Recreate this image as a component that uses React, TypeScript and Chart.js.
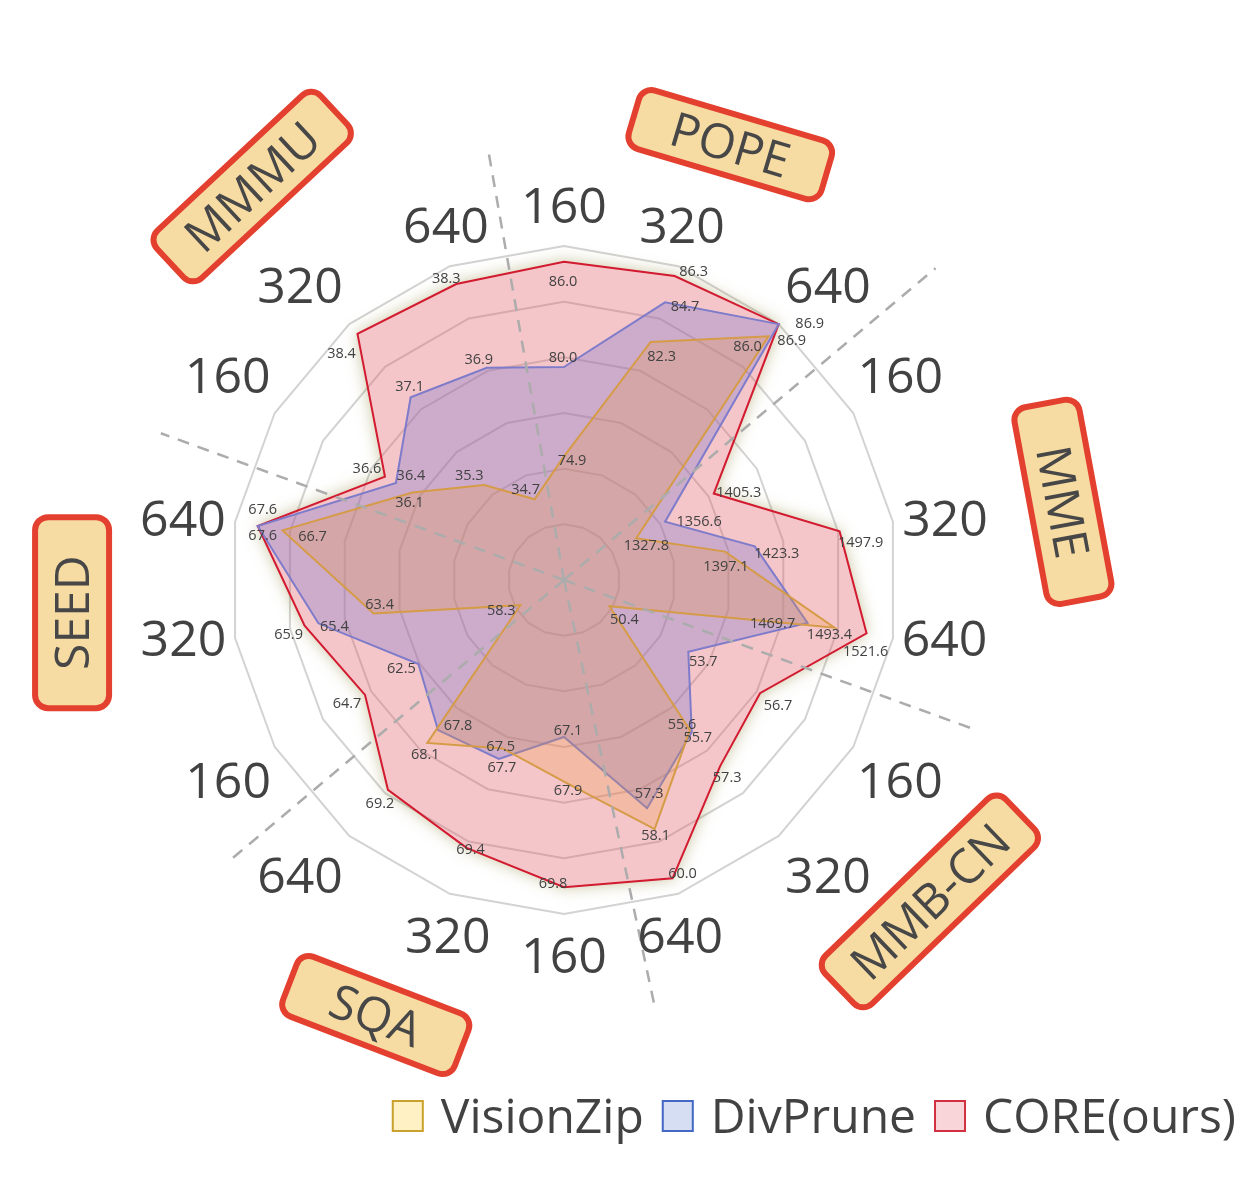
import React, { useEffect, useRef } from "react";
import { Chart, registerables } from "chart.js";

Chart.register(...registerables);

// ---------- data ----------
const benchmarks = ["POPE", "MME", "MMB-CN", "SQA", "SEED", "MMMU"];
const tokenCounts = ["160", "320", "640"];
const seriesNames = ["VisionZip", "DivPrune", "CORE(ours)"];

// per-benchmark indicator range of the radar axes
const benchMin = [67.85, 1255.5, 48.5, 64.28, 56.5, 33.35];
const benchMax = [86.9, 1544.8, 60.6, 70.28, 68.42, 38.6];

const visionZip = [74.9, 82.3, 86.0, 1327.8, 1397.1, 1493.4, 50.4, 55.6, 58.1, 67.9, 67.5, 68.1, 58.3, 63.4, 66.7, 36.1, 35.3, 34.7];
const divPrune = [80.0, 84.7, 86.9, 1356.6, 1423.3, 1469.7, 53.7, 55.7, 57.3, 67.1, 67.7, 67.8, 62.5, 65.4, 67.6, 36.4, 37.1, 36.9];
const core = [86.0, 86.3, 86.9, 1405.3, 1497.9, 1521.6, 56.7, 57.3, 60.0, 69.8, 69.4, 69.2, 64.7, 65.9, 67.6, 36.6, 38.4, 38.3];

const seriesValues = [visionZip, divPrune, core];
const axisLabels = benchmarks.flatMap(() => tokenCounts);

const toRadius = (vals: number[]) =>
  vals.map((v, i) => {
    const b = Math.floor(i / tokenCounts.length);
    return (v - benchMin[b]) / (benchMax[b] - benchMin[b]);
  });

// ---------- styles / layout ----------
const FONT = '"Open Sans", "Noto Sans", sans-serif';
const TEXT = "#424242";
const lineColors = ["#d59b47", "#7e7cca", "#d21a30"];
const fillColors = ["rgba(234,152,60,0.26)", "rgba(112,110,206,0.30)", "rgba(226,88,98,0.34)"];
const legendFill = ["#fff1c4", "#d5def3", "#f9d5da"];
const legendStroke = ["#c9a12f", "#4468c4", "#d0303f"];

const offVZ = [[8, 3], [11, 14], [-21, 10], [10, 7], [1, 14], [-5, 6], [15, 13], [-8, -6], [1, 6], [4, 8], [-2, -3], [-2, 11], [-19, 5], [6, -10], [30, 5], [-3, 9], [-15, -10], [-9, -11]];
const offDP = [[-1, -10], [20, 3], [13, 16], [34, -1], [22, 6], [-35, 0], [15, 9], [6, 5], [2, -15], [4, -7], [3, 8], [20, -5], [-17, 4], [16, 2], [5, 9], [15, -8], [-1, -11], [-8, -9]];
const offCORE = [[-1, 19], [19, -5], [31, -1], [25, -2], [21, 10], [-1, 17], [18, 12], [7, 11], [10, -6], [-11, -5], [4, 1], [-8, 13], [-18, 8], [-16, 8], [5, -17], [-18, -9], [-16, 19], [-10, -6]];
const valueOffsets = [offVZ, offDP, offCORE];

// tick label (160/320/640) placement: extra distance beyond outer ring, small angle shift (deg)
const tickGap = [41, 40, 62, 60, 52, 51, 57, 62, 40, 41, 40, 62, 57, 51, 52, 60, 62, 40];
const tickShift = [0, -1.6, 1.8, -1.4, 0.8, -1.3, 0.8, -1.8, 1.9, 0, -1.9, 1.8, -0.8, 1.3, -0.8, 1.4, -1.8, 1.6];

// dashed separators: extra length beyond outer ring and angle shift (deg)
const sepGap = [107, 151, 101, 101, 105, 95];
const sepShift = [0, 0, 0, -2, 0, 0];

// benchmark name boxes
const boxShift = [0.9, 1.1, -8.7, 3.4, 6.2, 1.6];
const boxGap = [132, 171, 153, 140, 159, 168];
const boxRot = [16.5, 79.5, -44, 21, -90, -43];
const boxW = [207, 206, 257, 190, 197, 230];
const boxH = [67, 72, 73, 70, 80, 71];

const DEG = Math.PI / 180;

function roundRectPath(ctx: CanvasRenderingContext2D, x: number, y: number, w: number, h: number, r: number) {
  ctx.beginPath();
  ctx.moveTo(x + r, y);
  ctx.arcTo(x + w, y, x + w, y + h, r);
  ctx.arcTo(x + w, y + h, x, y + h, r);
  ctx.arcTo(x, y + h, x, y, r);
  ctx.arcTo(x, y, x + w, y, r);
  ctx.closePath();
}

const decorPlugin = {
  id: "decor",
  beforeDatasetsDraw(chart: any) {
    // soft glow outside the CORE polygon
    const ctx: CanvasRenderingContext2D = chart.ctx;
    const pts = chart.getDatasetMeta(2).data;
    const path = () => {
      pts.forEach((p: any, i: number) => (i ? ctx.lineTo(p.x, p.y) : ctx.moveTo(p.x, p.y)));
      ctx.closePath();
    };
    ctx.save();
    ctx.beginPath();
    ctx.rect(0, 0, chart.width, chart.height);
    path();
    ctx.clip("evenodd");
    ctx.beginPath();
    path();
    ctx.shadowColor = "rgba(140,130,50,0.5)";
    ctx.shadowBlur = 16;
    ctx.fillStyle = "#ffffff";
    ctx.fill();
    ctx.restore();
  },
  afterDatasetsDraw(chart: any) {
    const ctx: CanvasRenderingContext2D = chart.ctx;
    const scale = chart.scales.r;
    const cx = scale.xCenter;
    const cy = scale.yCenter;
    const R = scale.drawingArea;
    const n = chart.data.labels.length;
    const step = (2 * Math.PI) / n;
    const polar = (a: number, d: number) => ({ x: cx + Math.sin(a) * d, y: cy - Math.cos(a) * d });

    // dashed separators between benchmarks
    ctx.save();
    ctx.strokeStyle = "#acacac";
    ctx.lineWidth = 2.5;
    ctx.setLineDash([12, 9]);
    for (let b = 0; b < benchmarks.length; b++) {
      const a = scale.getIndexAngle(b * tokenCounts.length) - step / 2 + sepShift[b] * DEG;
      const p = polar(a, R + sepGap[b]);
      ctx.beginPath();
      ctx.moveTo(cx, cy);
      ctx.lineTo(p.x, p.y);
      ctx.stroke();
    }
    ctx.restore();

    // value labels
    ctx.save();
    ctx.fillStyle = TEXT;
    ctx.textAlign = "center";
    ctx.textBaseline = "alphabetic";
    const vs = 14.5;
    ctx.font = `${vs}px ${FONT}`;
    chart.data.datasets.forEach((ds: any, di: number) => {
      const meta = chart.getDatasetMeta(di);
      meta.data.forEach((pt: any, i: number) => {
        const [dx, dy] = valueOffsets[di][i];
        ctx.fillText(seriesValues[di][i].toFixed(1), pt.x + dx, pt.y + dy + vs * 0.36);
      });
    });
    ctx.restore();

    // axis labels 160 / 320 / 640
    ctx.save();
    ctx.fillStyle = TEXT;
    ctx.textAlign = "center";
    ctx.textBaseline = "alphabetic";
    const ts = 50;
    ctx.font = `${ts}px ${FONT}`;
    chart.data.labels.forEach((lab: string, i: number) => {
      const a = scale.getIndexAngle(i) + tickShift[i] * DEG;
      const p = polar(a, R + tickGap[i]);
      ctx.fillText(lab, p.x, p.y + ts * 0.357);
    });
    ctx.restore();

    // benchmark boxes
    benchmarks.forEach((name, b) => {
      const a = scale.getIndexAngle(b * tokenCounts.length + 1) + boxShift[b] * DEG;
      const p = polar(a, R + boxGap[b]);
      const w = boxW[b];
      const h = boxH[b];
      ctx.save();
      ctx.translate(p.x, p.y);
      ctx.rotate(boxRot[b] * DEG);
      roundRectPath(ctx, -w / 2 + 3, -h / 2 + 3, w - 6, h - 6, 13);
      ctx.fillStyle = "#f6dba3";
      ctx.fill();
      ctx.lineWidth = 6;
      ctx.strokeStyle = "#e4402f";
      ctx.stroke();
      const bs = 48;
      ctx.font = `${bs}px ${FONT}`;
      ctx.fillStyle = "#474747";
      ctx.textAlign = "center";
      ctx.textBaseline = "alphabetic";
      ctx.fillText(name, 0, bs * 0.357);
      ctx.restore();
    });

    // legend (right aligned, bottom)
    ctx.save();
    const ls = 48;
    ctx.font = `${ls}px ${FONT}`;
    ctx.textAlign = "left";
    ctx.textBaseline = "alphabetic";
    const yc = chart.height - 68;
    let x = chart.width - 10;
    for (let di = chart.data.datasets.length - 1; di >= 0; di--) {
      const label = chart.data.datasets[di].label;
      const tw = ctx.measureText(label).width;
      const tx = x - tw;
      ctx.fillStyle = TEXT;
      ctx.fillText(label, tx, yc + ls * 0.357);
      const bx = tx - 17 - 32;
      ctx.fillStyle = legendFill[di];
      ctx.fillRect(bx, yc - 16, 32, 32);
      ctx.lineWidth = 2;
      ctx.strokeStyle = legendStroke[di];
      ctx.strokeRect(bx + 1, yc - 15, 30, 30);
      x = bx - 18;
    }
    ctx.restore();
  },
};

export default function App() {
  const ref = useRef<HTMLCanvasElement>(null);

  useEffect(() => {
    const canvas = ref.current;
    if (!canvas) return;
    const chart = new Chart(canvas, {
      type: "radar",
      data: {
        labels: axisLabels,
        datasets: seriesValues.map((vals, di) => ({
          label: seriesNames[di],
          data: toRadius(vals),
          borderColor: lineColors[di],
          backgroundColor: fillColors[di],
          borderWidth: 2,
          fill: true,
          pointRadius: 0,
          pointHoverRadius: 0,
          tension: 0,
        })),
      },
      options: {
        responsive: false,
        animation: false,
        devicePixelRatio: 1,
        events: [],
        layout: { padding: { left: 230, top: 246, right: 348, bottom: 270 } },
        plugins: {
          legend: { display: false },
          tooltip: { enabled: false },
        },
        scales: {
          r: {
            type: "radialLinear",
            min: 0,
            max: 1,
            startAngle: 0,
            ticks: { display: false, stepSize: 1 / 6 },
            grid: { circular: false, color: "#d3d3d3", lineWidth: 2 },
            angleLines: { display: false },
            pointLabels: { display: false },
          },
        },
      } as any,
      plugins: [decorPlugin as any],
    });
    return () => chart.destroy();
  }, []);

  return (
    <div style={{ position: "absolute", left: 0, top: 0, width: 1246, height: 1184, background: "#ffffff" }}>
      <canvas ref={ref} width={1246} height={1184} style={{ display: "block", width: 1246, height: 1184 }} />
    </div>
  );
}
